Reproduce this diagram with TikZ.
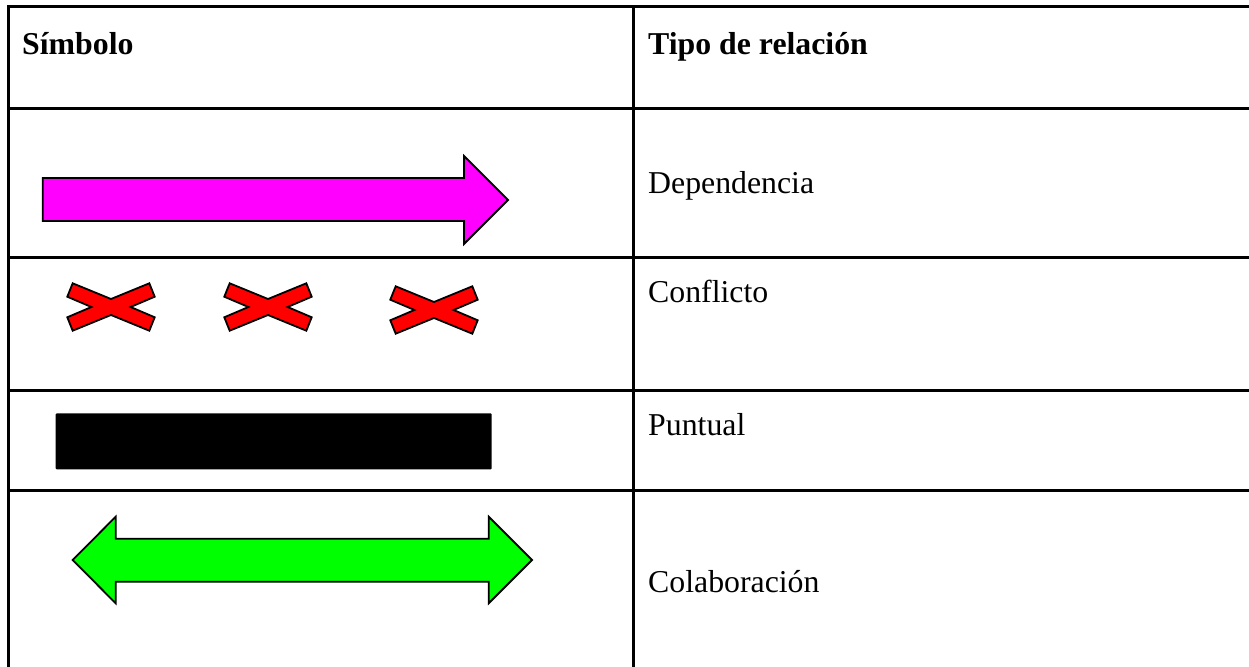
\documentclass[tikz,border=0pt]{standalone}
\usepackage{fontspec}
\setmainfont{Liberation Serif}
\begin{document}
\begin{tikzpicture}[
        x=1pt, y=-1pt, % one unit per pixel, y grows downwards
        tabline/.style = {line width=3pt},
        txt/.style = {anchor=base west, inner sep=0pt, font=\fontsize{31.8}{38}\selectfont},
        hdr/.style = {txt, font=\fontsize{31.8}{38}\selectfont\bfseries},
        symb/.style = {draw=black, line width=1.8pt, line join=miter},
    ]
    \useasboundingbox (0,0) rectangle (1249,666);
    \clip (0,0) rectangle (1249,666);

    % table rules
    \draw[tabline] (8,7) -- (1260,7);
    \foreach \ry in {109, 257, 390, 490}
        \draw[tabline] (8,\ry) -- (1260,\ry);
    \draw[tabline] (8,5.5) -- (8,680);
    \draw[tabline] (633,5.5) -- (633,680);

    % header
    \node[hdr] (simbolo) at (22,55) {Símbolo};
    \node[hdr] (tipo) at (648,55) {Tipo de relación};

    % dependencia
    \draw[symb, fill={rgb,255:red,255;green,0;blue,255}]
        (42.7,178) -- (464,178) -- (464,156) -- (508,200) -- (464,244) -- (464,221) -- (42.7,221) -- cycle;
    \node[txt] (dep) at (648,193) {Dependencia};

    % conflicto
    \foreach \cx/\cy in {111/307, 268/307, 434/310}
        \draw[symb, fill=red, shift={(\cx,\cy)}]
            (-38.3,-23.7) -- (0,-8) -- (38.3,-23.7) -- (43.7,-10.3) -- (19.6,0) -- (43.7,10.3)
            -- (38.3,23.7) -- (0,8) -- (-38.3,23.7) -- (-43.7,10.3) -- (-19.6,0) -- (-43.7,-10.3) -- cycle;
    \node[txt] (con) at (648,302) {Conflicto};

    % puntual
    \fill[black, rounded corners=1pt] (55.7,413.3) rectangle (491.7,469.3);
    \node[txt] (pun) at (648,435) {Puntual};

    % colaboracion
    \draw[symb, fill={rgb,255:red,0;green,255;blue,0}]
        (72.7,560) -- (115.7,516.7) -- (115.7,538.7) -- (488.7,538.7) -- (488.7,516.7) -- (532,560)
        -- (488.7,603.3) -- (488.7,581.7) -- (115.7,581.7) -- (115.7,603.3) -- cycle;
    \node[txt] (col) at (648,592) {Colaboración};
\end{tikzpicture}
\end{document}
